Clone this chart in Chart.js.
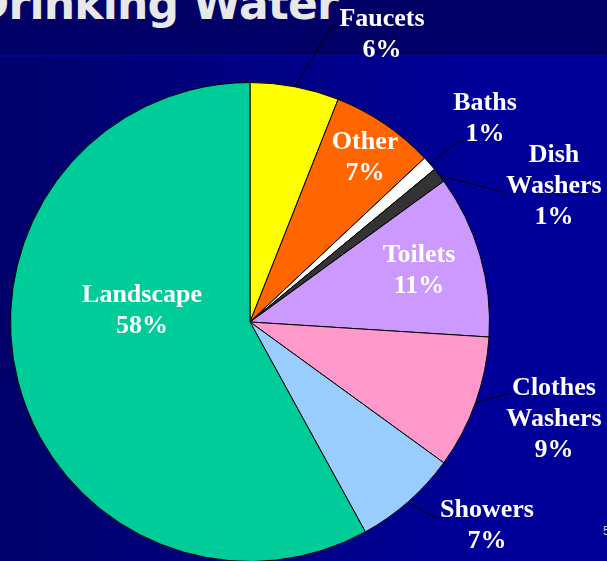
<!DOCTYPE html>
<html>
<head>
<meta charset="utf-8">
<script src="https://cdn.jsdelivr.net/npm/chart.js@4"></script>
<style>
  html, body { margin: 0; padding: 0; width: 607px; height: 561px; overflow: hidden; }
  #bg { position: absolute; left: 0; top: 0; width: 607px; height: 561px;
        background: linear-gradient(to right, #00006a 0%, #000099 80%, #00009a 100%); }
  #band { position: absolute; left: 0; top: 0; width: 607px; height: 55px; background: #000066; }
  #bandline { position: absolute; left: 0; top: 55px; width: 607px; height: 2px; background: #00009a; }
  #title { position: absolute; top: -18px; right: 269px; line-height: 44px; white-space: nowrap; letter-spacing: -0.8px;
           font-family: "DejaVu Sans", sans-serif; font-weight: bold; font-size: 44px; color: #e8e8e8; text-align: right; }
  #pageno { position: absolute; left: 603px; top: 524px; font-family: "Liberation Sans", sans-serif; font-size: 12px; color: #d0d0d0; }
  #wrap { position: absolute; left: 0; top: 0; }
</style>
</head>
<body>
<div id="bg"></div>
<div id="band"></div>
<div id="bandline"></div>
<div id="title">Drinking Water</div>
<div id="pageno">5</div>
<div id="wrap"><canvas id="c" width="607" height="580"></canvas></div>
<script>
const categories = ['Faucets', 'Other', 'Baths', 'Dish Washers', 'Toilets', 'Clothes Washers', 'Showers', 'Landscape'];
const values = [6, 7, 1, 1, 11, 9, 7, 58];
const sliceColors = ['#FFFF00', '#FF6600', '#FFFFFF', '#333333', '#CC99FF', '#FF99CC', '#99CCFF', '#00CC99'];

// label placement relative to pie centre (layout only)
const labelLayout = [
  { dx: 132, dy: -296, leader: [82, -296, 87, -296] },
  { dx: 115, dy: -173 },
  { dx: 235, dy: -212, leader: [208, -180, 213, -180] },
  { dx: 304, dy: -160, leader: [252, -130, 257, -130] },
  { dx: 169, dy: -60 },
  { dx: 304, dy: 73, leader: [256, 72, 260, 72] },
  { dx: 237, dy: 195, leader: [183, 195, 188, 195] },
  { dx: -108, dy: -20 }
];

const sliceLabels = {
  id: 'sliceLabels',
  afterDatasetsDraw(chart) {
    const ctx = chart.ctx;
    const meta = chart.getDatasetMeta(0);
    const ds = chart.data.datasets[0];
    ctx.save();
    meta.data.forEach((arc, i) => {
      const p = arc.getProps(['x', 'y', 'startAngle', 'endAngle', 'outerRadius'], true);
      const lay = labelLayout[i];
      if (lay.leader) {
        const mid = (p.startAngle + p.endAngle) / 2;
        const ex = p.x + p.outerRadius * Math.cos(mid);
        const ey = p.y + p.outerRadius * Math.sin(mid);
        ctx.beginPath();
        ctx.strokeStyle = '#000000';
        ctx.lineWidth = 1;
        ctx.moveTo(ex, ey);
        ctx.lineTo(p.x + lay.leader[0], p.y + lay.leader[1]);
        ctx.lineTo(p.x + lay.leader[2], p.y + lay.leader[3]);
        ctx.stroke();
      }
      const lines = chart.data.labels[i].split(' ').concat([ds.data[i] + '%']);
      ctx.fillStyle = '#FFFFFF';
      ctx.font = 'bold 26px "Liberation Serif", "Times New Roman", serif';
      ctx.textAlign = 'center';
      ctx.textBaseline = 'alphabetic';
      lines.forEach((t, k) => {
        ctx.fillText(t, p.x + lay.dx, p.y + lay.dy + k * 31);
      });
    });
    ctx.restore();
  }
};

new Chart(document.getElementById('c'), {
  type: 'pie',
  data: {
    labels: categories,
    datasets: [{
      data: values,
      backgroundColor: sliceColors,
      borderColor: '#000000',
      borderWidth: 1
    }]
  },
  options: {
    responsive: false,
    animation: false,
    layout: { padding: { left: 10, right: 117, top: 82, bottom: 18 } },
    plugins: {
      legend: { display: false },
      tooltip: { enabled: false },
      title: { display: false }
    }
  },
  plugins: [sliceLabels]
});
</script>
</body>
</html>
